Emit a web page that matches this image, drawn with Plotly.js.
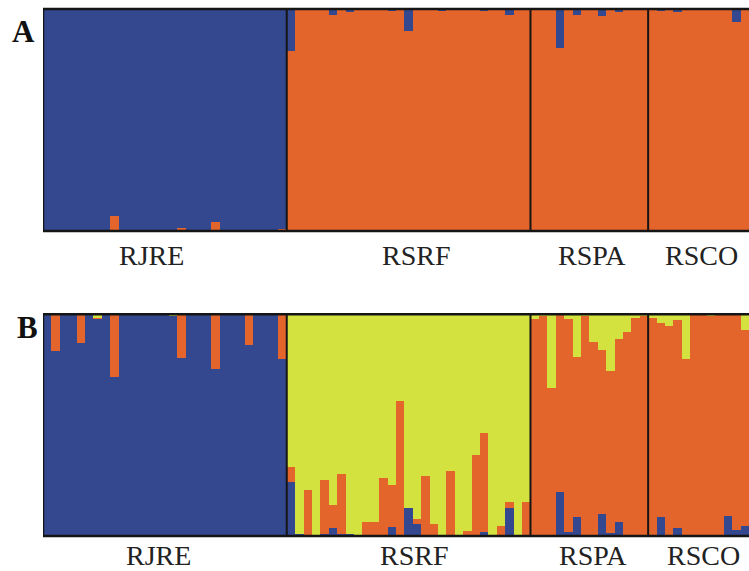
<!DOCTYPE html>
<html>
<head>
<meta charset="utf-8">
<script src="https://cdn.plot.ly/plotly-3.0.1.min.js"></script>
<style>html,body{margin:0;padding:0;background:#fff;}#chart{width:749px;height:571px;}</style>
</head>
<body>
<div id="chart"></div>
<script>
// Populations and group sizes (individuals)
const populations = ['RJRE', 'RSRF', 'RSPA', 'RSCO'];
const popSizes = [29, 29, 14, 12];

// Panel A (K=2): membership of the "blue" cluster per individual
const aBlueRJRE = [1,1,1,1,1,1,1,1,0.932,1,1,1,1,1,1,1,0.988,1,1,1,0.96,1,1,1,1,1,1,1,0.99];
const aBlueRSRF = [0.19,0,0,0,0,0.027,0,0.012,0,0,0,0,0.01,0,0.10,0,0,0,0.01,0,0,0,0,0.01,0,0,0.027,0,0];
const aBlueRSPA = [0,0,0,0.177,0,0.027,0,0,0.032,0,0.012,0,0,0];
const aBlueRSCO = [0,0.008,0,0.012,0,0,0,0,0,0,0.057,0];
// Panel A: membership of the "orange" cluster
const aOrangeRJRE = [0,0,0,0,0,0,0,0,0.068,0,0,0,0,0,0,0,0.012,0,0,0,0.04,0,0,0,0,0,0,0,0.01];
const aOrangeRSRF = [0.81,1,1,1,1,0.973,1,0.988,1,1,1,1,0.99,1,0.90,1,1,1,0.99,1,1,1,1,0.99,1,1,0.973,1,1];
const aOrangeRSPA = [1,1,1,0.823,1,0.973,1,1,0.968,1,0.988,1,1,1];
const aOrangeRSCO = [1,0.992,1,0.988,1,1,1,1,1,1,0.943,1];

// Panel B (K=3)
const bBlueRJRE = [1,0.836,1,1,0.869,1,0.98,1,0.719,1,1,1,1,1,1,0.992,0.801,1,1,1,0.753,1,1,1,0.862,1,1,1,0.798];
const bOrangeRJRE = [0,0.164,0,0,0.131,0,0.005,0,0.281,0,0,0,0,0,0,0,0.199,0,0,0,0.247,0,0,0,0.138,0,0,0,0.202];
const bYellowRJRE = [0,0,0,0,0,0,0.015,0,0,0,0,0,0,0,0,0.008,0,0,0,0,0,0,0,0,0,0,0,0,0];

const bBlueRSRF = [0.245,0.008,0.005,0.005,0.01,0.035,0.01,0.01,0,0,0,0,0.042,0,0.125,0.054,0.005,0,0.005,0.005,0,0,0,0.017,0.005,0,0.125,0,0];
const bOrangeRSRF = [0.068,0,0.203,0,0.243,0.105,0.268,0,0.005,0.065,0.065,0.26,0.188,0.609,0,0.023,0.265,0.053,0,0.288,0,0.023,0.364,0.446,0,0.047,0.03,0,0.155];
const bYellowRSRF = [0.687,0.992,0.792,0.995,0.747,0.86,0.722,0.99,0.995,0.935,0.935,0.74,0.77,0.391,0.875,0.923,0.73,0.947,0.995,0.707,1,0.977,0.636,0.537,0.995,0.953,0.845,1,0.845];

const bBlueRSPA = [0,0,0,0.2,0.02,0.084,0,0,0.098,0.012,0.062,0,0,0];
const bOrangeRSPA = [0.979,0.99,0.669,0.795,0.959,0.722,0.994,0.874,0.741,0.732,0.825,0.919,0.982,0.99];
const bYellowRSPA = [0.021,0.01,0.331,0.005,0.021,0.194,0.006,0.126,0.161,0.256,0.113,0.081,0.018,0.01];

const bBlueRSCO = [0,0.087,0,0.038,0,0.005,0,0,0.005,0.092,0.027,0.047];
const bOrangeRSCO = [0.982,0.875,0.949,0.936,0.797,0.99,1,0.992,0.99,0.908,0.973,0.882];
const bYellowRSCO = [0.018,0.038,0.051,0.026,0.203,0.005,0,0.008,0.005,0,0,0.071];

const colBlue = '#33488f';
const colOrange = '#e4652b';
const colYellow = '#d4e23f';

const aBlue = [].concat(aBlueRJRE, aBlueRSRF, aBlueRSPA, aBlueRSCO);
const aOrange = [].concat(aOrangeRJRE, aOrangeRSRF, aOrangeRSPA, aOrangeRSCO);
const bBlue = [].concat(bBlueRJRE, bBlueRSRF, bBlueRSPA, bBlueRSCO);
const bOrange = [].concat(bOrangeRJRE, bOrangeRSRF, bOrangeRSPA, bOrangeRSCO);
const bYellow = [].concat(bYellowRJRE, bYellowRSRF, bYellowRSPA, bYellowRSCO);
const nInd = popSizes.reduce((a, b) => a + b, 0);
const idx = Array.from({length: nInd}, (_, i) => i);

function bar(y, color, xa, ya) {
  return {type: 'bar', x: idx, y: y, xaxis: xa, yaxis: ya, width: 1,
    marker: {color: color, line: {width: 0}}, hoverinfo: 'skip', showlegend: false};
}

const traces = [
  bar(aOrange, colOrange, 'x', 'y'),
  bar(aBlue, colBlue, 'x', 'y'),
  bar(bBlue, colBlue, 'x2', 'y2'),
  bar(bOrange, colOrange, 'x2', 'y2'),
  bar(bYellow, colYellow, 'x2', 'y2')
];

const xr = [-0.5, nInd - 0.5];
const shapes = [];
const lineCol = '#151515';
[['x', 'y'], ['x2', 'y2']].forEach(([xa, ya]) => {
  const yd = ya + ' domain';
  shapes.push({type: 'line', xref: xa, yref: yd, x0: xr[0], x1: xr[1] + 1, y0: 1, y1: 1, line: {color: lineCol, width: 2.5}, layer: 'above'});
  shapes.push({type: 'line', xref: xa, yref: yd, x0: xr[0], x1: xr[1] + 1, y0: 0, y1: 0, line: {color: lineCol, width: 2.5}, layer: 'above'});
  shapes.push({type: 'line', xref: xa, yref: yd, x0: xr[0], x1: xr[0], y0: 0, y1: 1, line: {color: lineCol, width: 2.5}, layer: 'above'});
  let cum = 0;
  for (let p = 0; p < popSizes.length - 1; p++) {
    cum += popSizes[p];
    shapes.push({type: 'line', xref: xa, yref: yd, x0: cum - 0.5, x1: cum - 0.5, y0: 0, y1: 1, line: {color: lineCol, width: 2}, layer: 'above'});
  }
});

const labFont = {family: 'Liberation Serif', size: 28, color: '#222'};
const panelFont = {family: 'Liberation Serif', size: 31, color: '#111', weight: 'bold'};
const aLabelX = [0.153, 0.529, 0.778, 0.878];
const bLabelX = [0.164, 0.5255, 0.779, 0.881];
const annotations = [];
populations.forEach((p, i) => {
  annotations.push({text: p, xref: 'paper', yref: 'paper', x: aLabelX[i], y: 0.5517,
    xanchor: i === 3 ? 'left' : 'center', yanchor: 'middle', showarrow: false, font: labFont});
  annotations.push({text: p, xref: 'paper', yref: 'paper', x: bLabelX[i], y: 0.0263,
    xanchor: i === 3 ? 'left' : 'center', yanchor: 'middle', showarrow: false, font: labFont});
});
annotations.push({text: '<b>A</b>', xref: 'paper', yref: 'paper', x: -0.0283, y: 0.9457, xanchor: 'center', yanchor: 'middle', showarrow: false, font: panelFont});
annotations.push({text: '<b>B</b>', xref: 'paper', yref: 'paper', x: -0.022, y: 0.4273, xanchor: 'center', yanchor: 'middle', showarrow: false, font: panelFont});

const axHidden = {showgrid: false, zeroline: false, showticklabels: false, ticks: '', showline: false, fixedrange: true};
const layout = {
  width: 749, height: 571,
  margin: {l: 43, r: 0, t: 0, b: 0},
  paper_bgcolor: '#fff', plot_bgcolor: '#fff',
  barmode: 'stack', bargap: 0,
  showlegend: false,
  xaxis: Object.assign({}, axHidden, {range: xr, anchor: 'y'}),
  yaxis: Object.assign({}, axHidden, {range: [0, 1], domain: [0.5954, 0.9842], anchor: 'x'}),
  xaxis2: Object.assign({}, axHidden, {range: xr, anchor: 'y2'}),
  yaxis2: Object.assign({}, axHidden, {range: [0, 1], domain: [0.0613, 0.4496], anchor: 'x2'}),
  shapes: shapes,
  annotations: annotations
};

Plotly.newPlot('chart', traces, layout, {displayModeBar: false, staticPlot: true});
</script>
</body>
</html>
